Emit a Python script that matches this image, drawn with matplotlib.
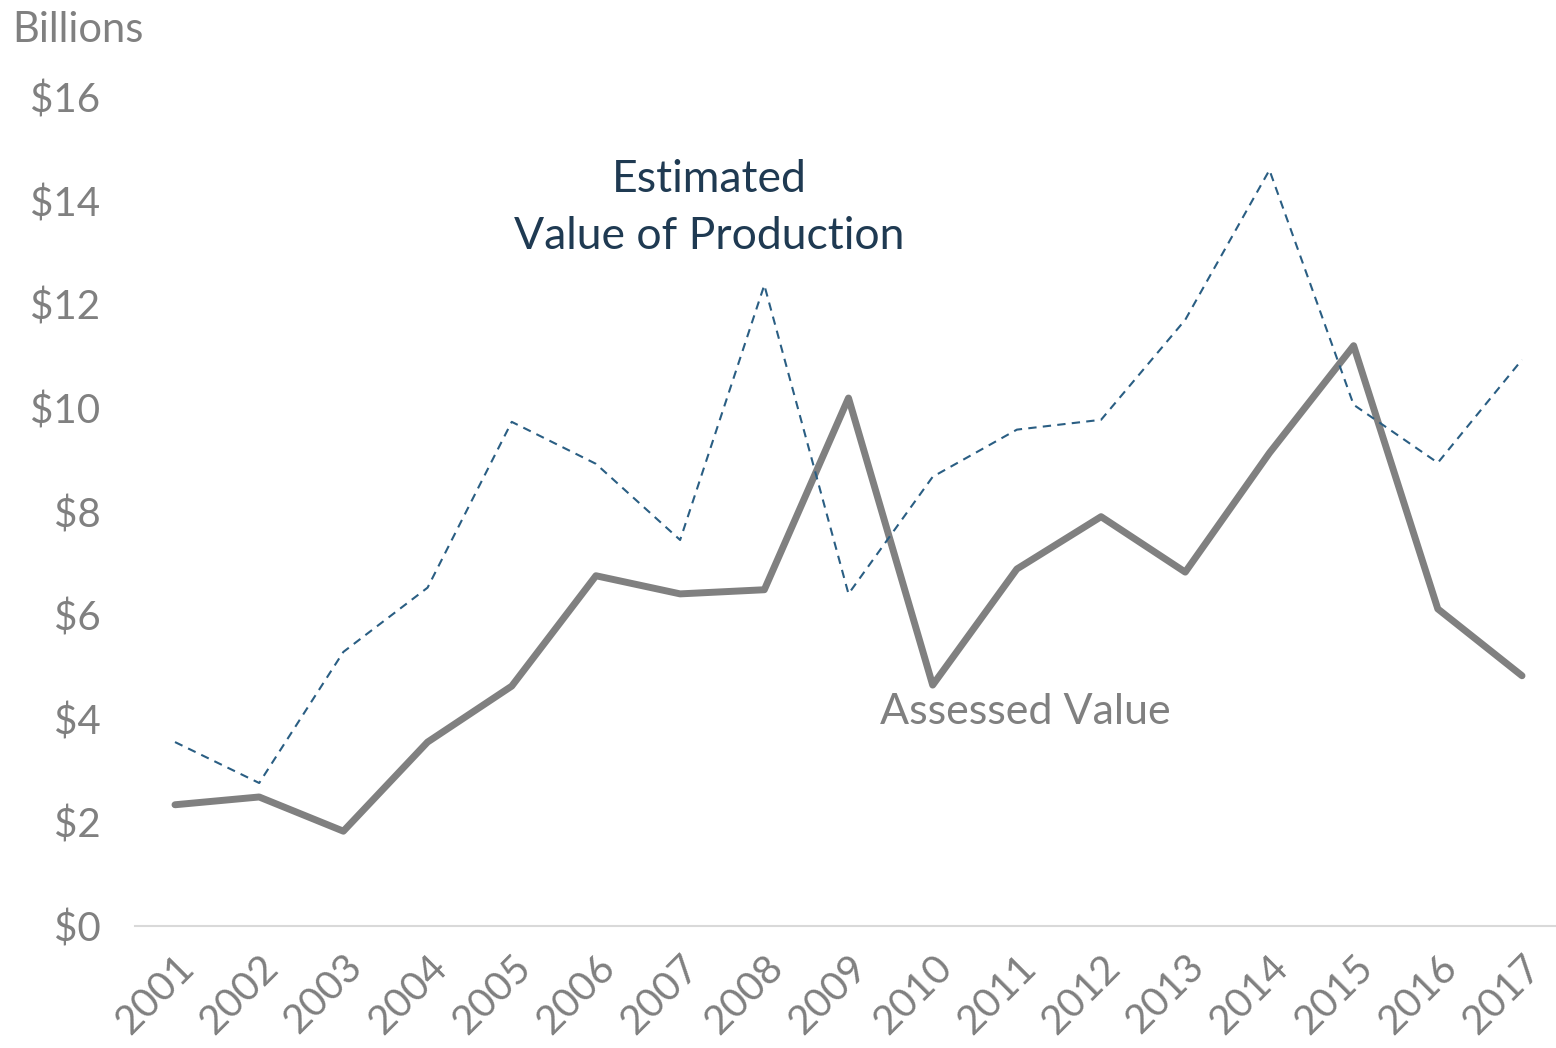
import matplotlib
matplotlib.use("Agg")
import matplotlib.pyplot as plt

plt.rcParams['font.family'] = ['Lato', 'DejaVu Sans']

years = list(range(2001, 2018))
assessed = [2.34, 2.49, 1.83, 3.55, 4.63, 6.76, 6.41, 6.49, 10.19, 4.65,
            6.89, 7.90, 6.83, 9.13, 11.20, 6.12, 4.83]
estimated = [3.55, 2.76, 5.29, 6.53, 9.73, 8.92, 7.45, 12.37, 6.41, 8.67,
             9.58, 9.77, 11.70, 14.59, 10.06, 8.94, 10.93]
yticks = [0, 2, 4, 6, 8, 10, 12, 14, 16]

GRAY = '#808080'
BLUE = '#2a5e83'
NAVY = '#1f3a52'

fig = plt.figure(figsize=(15.56, 10.48), dpi=100)
ax = fig.add_axes([135 / 1556, 1 - 926 / 1048, (1556 - 135) / 1556, (926 - 97) / 1048])

ax.plot(years, assessed, color=GRAY, linewidth=5, solid_joinstyle='round',
        solid_capstyle='round')
ax.plot(years, estimated, color=BLUE, linewidth=1.5, linestyle=(0, (4, 3)))

ax.set_xlim(2001 - 40 / 84.2, 2017 + 34 / 84.2)
ax.set_ylim(0, 16)
ax.set_yticks(yticks)
ax.set_yticklabels([f'${v}' for v in yticks])
ax.set_xticks(years)
ax.set_xticklabels([str(y) for y in years], rotation=45, ha='right',
                   rotation_mode='anchor')

for s in ['top', 'right', 'left']:
    ax.spines[s].set_visible(False)
ax.spines['bottom'].set_color('#d9d9d9')
ax.spines['bottom'].set_linewidth(1.5)
ax.tick_params(axis='both', length=0, labelsize=29, colors=GRAY)
ax.tick_params(axis='y', pad=25)
ax.tick_params(axis='x', pad=16)

ax.text(2007.35, 13.86, 'Estimated\nValue of Production', color=NAVY,
        fontsize=32, ha='center', va='center', linespacing=1.5)
ax.text(2009.37, 4.13, 'Assessed Value', color=GRAY, fontsize=31,
        ha='left', va='center')

fig.text(12 / 1556, 1 - 30 / 1048, 'Billions', color=GRAY, fontsize=30,
         ha='left', va='center')

fig.savefig('out.png', dpi=100)
